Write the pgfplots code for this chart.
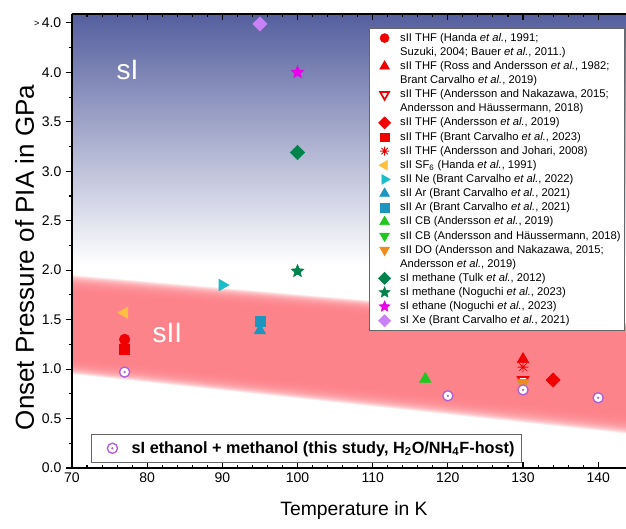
\documentclass[border=0pt]{standalone}
\usepackage{fontspec}
\setmainfont{Liberation Sans}
\usepackage{pgfplots}
\pgfplotsset{compat=1.18}

\definecolor{thfred}{RGB}{240,0,0}
\definecolor{sfcol}{RGB}{255,192,64}
\definecolor{necol}{RGB}{24,190,200}
\definecolor{arcol}{RGB}{28,150,190}
\definecolor{cbcol}{RGB}{30,200,30}
\definecolor{docol}{RGB}{240,140,30}
\definecolor{methcol}{RGB}{0,130,75}
\definecolor{ethcol}{RGB}{235,0,235}
\definecolor{xecol}{RGB}{200,130,245}
\definecolor{thiscol}{RGB}{175,95,215}
\definecolor{topblue}{RGB}{85,95,158}
\definecolor{midblue}{RGB}{150,157,197}
\definecolor{bandcol}{RGB}{253,128,136}

\pgfdeclareplotmark{fstar}{%
\pgfpathmoveto{\pgfpointpolar{90}{\pgfplotmarksize}}%
\pgfpathlineto{\pgfpointpolar{126}{0.45\pgfplotmarksize}}%
\pgfpathlineto{\pgfpointpolar{162}{\pgfplotmarksize}}%
\pgfpathlineto{\pgfpointpolar{198}{0.45\pgfplotmarksize}}%
\pgfpathlineto{\pgfpointpolar{234}{\pgfplotmarksize}}%
\pgfpathlineto{\pgfpointpolar{270}{0.45\pgfplotmarksize}}%
\pgfpathlineto{\pgfpointpolar{306}{\pgfplotmarksize}}%
\pgfpathlineto{\pgfpointpolar{342}{0.45\pgfplotmarksize}}%
\pgfpathlineto{\pgfpointpolar{18}{\pgfplotmarksize}}%
\pgfpathlineto{\pgfpointpolar{54}{0.45\pgfplotmarksize}}%
\pgfpathclose\pgfusepathqfillstroke}

\pgfdeclareplotmark{ast8}{%
\pgfpathmoveto{\pgfqpoint{-\pgfplotmarksize}{0pt}}\pgfpathlineto{\pgfqpoint{\pgfplotmarksize}{0pt}}%
\pgfpathmoveto{\pgfqpoint{0pt}{-\pgfplotmarksize}}\pgfpathlineto{\pgfqpoint{0pt}{\pgfplotmarksize}}%
\pgfpathmoveto{\pgfpointpolar{45}{\pgfplotmarksize}}\pgfpathlineto{\pgfpointpolar{225}{\pgfplotmarksize}}%
\pgfpathmoveto{\pgfpointpolar{135}{\pgfplotmarksize}}\pgfpathlineto{\pgfpointpolar{315}{\pgfplotmarksize}}%
\pgfusepathqstroke}

\pgfdeclareplotmark{cdot}{%
\pgfpathcircle{\pgfpointorigin}{\pgfplotmarksize}\pgfusepathqfillstroke
\begin{pgfscope}\pgfpathcircle{\pgfpointorigin}{0.25\pgfplotmarksize}\pgfsetfillcolor{thiscol}\pgfusepathqfill\end{pgfscope}}

\pgfplotsset{
  mk/.style={only marks,
    legend image code/.code={\path (0cm,0cm) (0.7cm,0cm);\draw[mark repeat=2,mark phase=2,##1,every mark/.append style={scale=0.85}] plot coordinates {(0cm,0cm) (0.33cm,0cm) (0.7cm,0cm)};}},
  mk2/.style={only marks,
    legend image code/.code={\path (0cm,0cm) (0.88cm,0cm);\draw[mark repeat=2,mark phase=2,##1] plot coordinates {(0cm,0cm) (0.45cm,0cm) (0.88cm,0cm)};}},
}

\begin{document}
\begin{tikzpicture}
\useasboundingbox (-54pt,-45.75pt) rectangle (415.5pt,351pt);
\begin{axis}[
  at={(0,0)}, anchor=south west,
  scale only axis, width=415.5pt, height=340.5pt,
  xmin=70, xmax=143.7, ymin=0, ymax=4.59,
  axis x line*=box, axis y line*=left, y axis line style={-},
  axis on top,
  xtick={70,80,90,100,110,120,130,140}, minor x tick num=4,
  ytick={0,0.5,1,1.5,2,2.5,3,3.5,4,4.5},
  yticklabels={0.0,0.5,1.0,1.5,2.0,2.5,3.0,3.5,4.0,{\raisebox{1pt}{\fontsize{7}{8}\selectfont >}\,4.0}},
  minor y tick num=1,
  xtick align=inside, ytick align=outside,
  major tick length=4.5pt, minor tick length=2.5pt,
  tick style={black, line width=0.8pt},
  axis line style={line width=0.9pt},
  ticklabel style={font=\fontsize{10.5}{12}\selectfont},
  /pgf/number format/assume math mode=true,
  xlabel={Temperature in K}, ylabel={Onset Pressure of PIA in GPa},
  xlabel style={font=\fontsize{14.5}{16}\selectfont, at={(axis description cs:0.509,-0.0947)}, anchor=center},
  ylabel style={font=\fontsize{19.5}{22}\selectfont, at={(axis description cs:-0.0857,0.4637)}, anchor=center},
  legend style={at={(0.998,0.969)}, anchor=north east, draw=black!60, fill=white,
    font=\fontsize{8.4}{10}\selectfont, row sep=0pt, inner sep=2pt,
    nodes={inner sep=1pt, text height=6.6pt, text depth=2pt}},
  legend cell align=left,
]
% background: sI region (blue) and sII band (red)
\path[top color=topblue, middle color=midblue, bottom color=white] (axis cs:70,2.05) rectangle (axis cs:143.7,4.59);
\pgfplotsinvokeforeach{0,...,20}{
  \fill[bandcol, fill opacity=0.16] (axis cs:70,{1.95-0.17*#1/20}) -- (axis cs:143.7,{1.47-0.11*#1/20})
     -- (axis cs:143.7,{0.35+0.18*#1/20}) -- (axis cs:70,{0.95+0.15*#1/20}) -- cycle;
}
\node[text=white, font=\fontsize{21}{24}\selectfont] at (axis cs:77.4,4.02) {sI};
\node[text=white, font=\fontsize{21}{24}\selectfont] at (axis cs:82.7,1.36) {sII};

\addplot[mk, mark=*, mark size=4pt, color=thfred] coordinates {(77,1.30)};
\addlegendentry{sII THF (Handa \textit{et al.}, 1991;}
\addlegendimage{empty legend}\addlegendentry{Suzuki, 2004; Bauer \textit{et al.}, 2011.)}
\addplot[mk, mark=triangle*, mark size=5pt, color=thfred] coordinates {(130,1.10)};
\addlegendentry{sII THF (Ross and Andersson \textit{et al.}, 1982;}
\addlegendimage{empty legend}\addlegendentry{Brant Carvalho \textit{et al.}, 2019)}
\addplot[mk, mark=triangle*, mark size=4.5pt, mark options={rotate=180, draw=thfred, fill=white, line width=1.3pt}] coordinates {(130,0.89)};
\addlegendentry{sII THF (Andersson and Nakazawa, 2015;}
\addlegendimage{empty legend}\addlegendentry{Andersson and Häussermann, 2018)}
\addplot[mk, mark=square*, mark size=3.8pt, mark options={rotate=45}, color=thfred] coordinates {(134,0.89)};
\addlegendentry{sII THF (Andersson \textit{et al.}, 2019)}
\addplot[mk, mark=square*, mark size=3.7pt, color=thfred] coordinates {(77,1.20)};
\addlegendentry{sII THF (Brant Carvalho \textit{et al.}, 2023)}
\addplot[mk, mark=ast8, mark size=4pt, color=thfred, mark options={line width=0.6pt}] coordinates {(130,1.02)};
\addlegendentry{sII THF (Andersson and Johari, 2008)}
\addplot[mk, mark=triangle*, mark size=5pt, mark options={rotate=90}, color=sfcol] coordinates {(77,1.57)};
\addlegendentry{sII SF\textsubscript{6} (Handa \textit{et al.}, 1991)}
\addplot[mk, mark=triangle*, mark size=5pt, mark options={rotate=-90}, color=necol] coordinates {(90,1.85)};
\addlegendentry{sII Ne (Brant Carvalho \textit{et al.}, 2022)}
\addplot[mk, mark=triangle*, mark size=5pt, color=arcol] coordinates {(95,1.39)};
\addlegendentry{sII Ar (Brant Carvalho \textit{et al.}, 2021)}
\addplot[mk, mark=square*, mark size=3.7pt, color=arcol] coordinates {(95,1.48)};
\addlegendentry{sII Ar (Brant Carvalho \textit{et al.}, 2021)}
\addplot[mk, mark=triangle*, mark size=5pt, color=cbcol] coordinates {(117,0.90)};
\addlegendentry{sII CB (Andersson \textit{et al.}, 2019)}
\addplot[mk, mark=triangle*, mark size=5pt, mark options={rotate=180}, color=cbcol] coordinates {(130,0.86)};
\addlegendentry{sII CB (Andersson and Häussermann, 2018)}
\addplot[mk, mark=triangle*, mark size=5pt, mark options={rotate=180}, color=docol] coordinates {(130,0.86)};
\addlegendentry{sII DO (Andersson and Nakazawa, 2015;}
\addlegendimage{empty legend}\addlegendentry{Andersson \textit{et al.}, 2019)}
\addplot[mk, mark=square*, mark size=3.8pt, mark options={rotate=45}, color=methcol] coordinates {(100,3.19)};
\addlegendentry{sI methane (Tulk \textit{et al.}, 2012)}
\addplot[mk, mark=fstar, mark size=5pt, color=methcol] coordinates {(100,1.99)};
\addlegendentry{sI methane (Noguchi \textit{et al.}, 2023)}
\addplot[mk, mark=fstar, mark size=5pt, color=ethcol] coordinates {(100,4.00)};
\addlegendentry{sI ethane (Noguchi \textit{et al.}, 2023)}
\addplot[mk, mark=square*, mark size=3.8pt, mark options={rotate=45}, color=xecol] coordinates {(95,4.49)};
\addlegendentry{sI Xe (Brant Carvalho \textit{et al.}, 2021)}
\end{axis}

\begin{axis}[
  at={(0,0)}, anchor=south west,
  scale only axis, width=415.5pt, height=340.5pt,
  xmin=70, xmax=143.7, ymin=0, ymax=4.59,
  hide axis, clip=false,
  legend style={at={(0.034,0.013)}, anchor=south west, draw=black!60, fill=white,
    font=\fontsize{12.2}{14}\selectfont\bfseries, inner sep=3pt},
  legend cell align=left,
]
\addplot[mk2, mark=cdot, mark size=3.8pt, mark options={draw=thiscol, fill=white, line width=1pt}]
  coordinates {(77,0.97) (120,0.73) (130,0.79) (140,0.71)};
\addlegendentry{sI ethanol + methanol (this study, H\textsubscript{2}O/NH\textsubscript{4}F-host)}
\end{axis}
\end{tikzpicture}
\end{document}
